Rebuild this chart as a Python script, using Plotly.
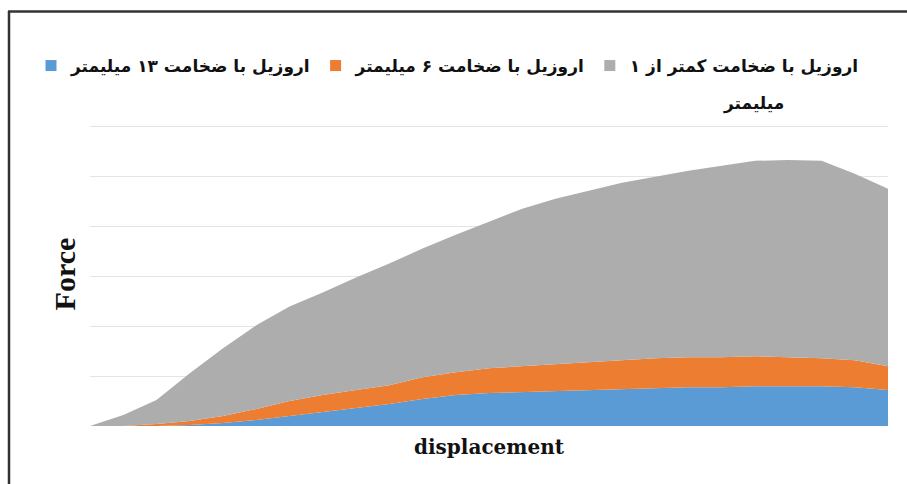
import plotly.graph_objects as go

# displacement steps (category index)
displacement = list(range(25))

# stacked layer values (grid unit = 1)
thick13 = [0, 0, 0, 0.02, 0.06, 0.12, 0.20, 0.28, 0.36, 0.44, 0.54, 0.62, 0.66,
           0.68, 0.70, 0.72, 0.74, 0.76, 0.78, 0.78, 0.80, 0.80, 0.80, 0.78, 0.72]
thick6 = [0, 0, 0.04, 0.08, 0.14, 0.22, 0.30, 0.34, 0.36, 0.38, 0.44, 0.46, 0.50,
          0.52, 0.54, 0.56, 0.58, 0.60, 0.60, 0.60, 0.60, 0.58, 0.56, 0.54, 0.48]
thick1 = [0, 0.22, 0.48, 0.96, 1.36, 1.68, 1.90, 2.06, 2.26, 2.44, 2.58, 2.76, 2.94,
          3.16, 3.32, 3.44, 3.56, 3.64, 3.74, 3.84, 3.92, 3.96, 3.96, 3.74, 3.56]

names = ["اروزیل با ضخامت ۱۳ میلیمتر",
         "اروزیل با ضخامت ۶ میلیمتر",
         "اروزیل با ضخامت کمتر از ۱"]
name_wrap = "میلیمتر"
colors = ["#5B9BD5", "#ED7D31", "#ADADAD"]
grid_vals = [0, 1, 2, 3, 4, 5, 6]

fig = go.Figure()
for vals, name, col in zip([thick13, thick6, thick1], names, colors):
    fig.add_trace(go.Scatter(
        x=displacement, y=vals, name=name, mode="lines",
        stackgroup="one", line=dict(width=0, color=col),
        fillcolor=col, showlegend=False,
    ))
for name, col in zip(names, colors):
    fig.add_trace(go.Scatter(
        x=[None], y=[None], name=name, mode="markers",
        marker=dict(symbol="square", size=11, color=col),
    ))

L, R, T, B = 90, 19, 122, 58
W, H = 907, 484
pw, ph = W - L - R, H - T - B

def px_x(p):
    return (p - L) / pw

def px_y(p):
    return (H - B - p) / ph

leg_font = dict(family="DejaVu Sans", size=17, color="#111", weight="bold")

fig.update_layout(
    width=W, height=H,
    margin=dict(l=L, r=R, t=T, b=B),
    paper_bgcolor="white", plot_bgcolor="white",
    showlegend=True,
    legend=dict(
        orientation="h", x=px_x(31), xanchor="left", y=px_y(48), yanchor="top",
        font=leg_font, valign="top", traceorder="normal", itemwidth=30,
        bgcolor="rgba(0,0,0,0)",
    ),
    xaxis=dict(range=[0, 24], showgrid=False, showticklabels=False, ticks="",
               zeroline=False, showline=False,
               title=dict(text="<b>displacement</b>", standoff=13,
                          font=dict(family="DejaVu Serif", size=20, color="#111"))),
    yaxis=dict(range=[0, 6.1], tickvals=grid_vals, showticklabels=False, ticks="",
               showgrid=True, gridcolor="#e4e4e4", gridwidth=1,
               zeroline=False, showline=False,
               title=dict(text="<b>Force</b>", standoff=4,
                          font=dict(family="Liberation Serif", size=30, color="#111"))),
    annotations=[
        dict(text=name_wrap, xref="paper", yref="paper", x=px_x(753), y=px_y(103),
             xanchor="center", yanchor="middle", showarrow=False, font=leg_font),
    ],
    shapes=[
        dict(type="line", xref="paper", yref="paper",
             x0=px_x(9), x1=px_x(9), y0=px_y(11), y1=px_y(484),
             line=dict(color="#333", width=2.5)),
        dict(type="line", xref="paper", yref="paper",
             x0=px_x(8), x1=px_x(907), y0=px_y(11.5), y1=px_y(11.5),
             line=dict(color="#333", width=2.5)),
    ],
)

fig.write_html("out.html")
